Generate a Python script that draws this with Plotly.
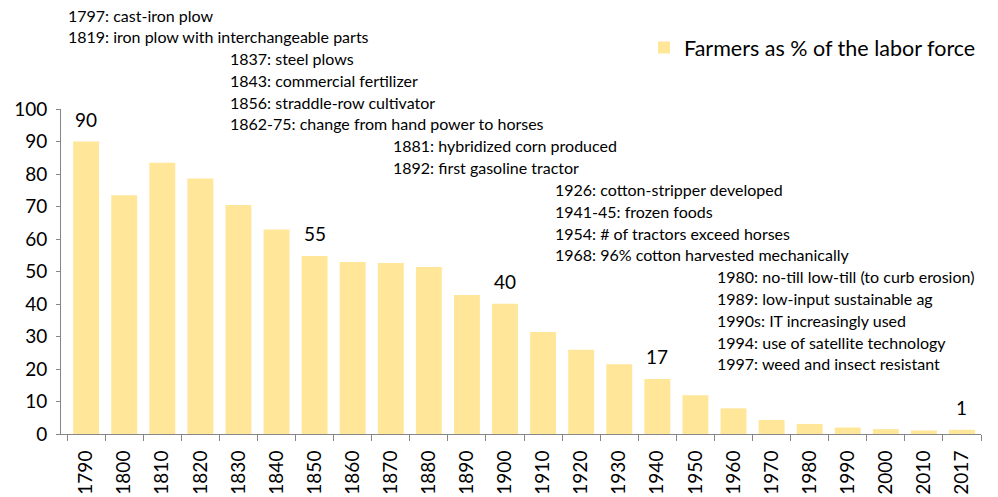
import plotly.graph_objects as go

YEARS = ["1790", "1800", "1810", "1820", "1830", "1840", "1850", "1860", "1870", "1880",
         "1890", "1900", "1910", "1920", "1930", "1940", "1950", "1960", "1970", "1980",
         "1990", "2000", "2010", "2017"]
FARMERS_PCT = [90, 73.5, 83.5, 78.6, 70.5, 62.9, 54.8, 52.9, 52.6, 51.4,
               42.8, 40.1, 31.4, 25.9, 21.5, 16.9, 11.9, 7.9, 4.3, 3.1,
               2.0, 1.5, 1.1, 1.3]
LABELED = {"1790": "90", "1850": "55", "1900": "40", "1940": "17", "2017": "1"}

EVENTS = [
    "1797: cast-iron plow",
    "1819: iron plow with interchangeable parts",
    "1837: steel plows",
    "1843: commercial fertilizer",
    "1856: straddle-row cultivator",
    "1862-75: change from hand power to horses",
    "1881: hybridized corn produced",
    "1892: first gasoline tractor",
    "1926: cotton-stripper developed",
    "1941-45: frozen foods",
    "1954: # of tractors exceed horses",
    "1968: 96% cotton harvested mechanically",
    "1980: no-till low-till (to curb erosion)",
    "1989: low-input sustainable ag",
    "1990s: IT increasingly used",
    "1994: use of satellite technology",
    "1997: weed and insect resistant",
]
# which text column each event sits in
EVENT_COL = [0, 0, 1, 1, 1, 1, 2, 2, 3, 3, 3, 3, 4, 4, 4, 4, 4]

BAR = "#FFE699"
FONT = "Lato, Carlito, 'Open Sans', sans-serif"

W, H = 998, 497
L, R, T, B = 61, 17, 109, 63


def px_x(px):
    return (px - L) / (W - L - R)


def px_y(py):
    return (H - B - py) / (H - T - B)


fig = go.Figure()
fig.add_trace(go.Bar(
    x=YEARS, y=FARMERS_PCT, name="Farmers as % of the labor force",
    marker=dict(color=BAR, line_width=0), width=0.68,
))

# data labels on selected bars
for yr, txt in LABELED.items():
    i = YEARS.index(yr)
    fig.add_annotation(x=i, y=FARMERS_PCT[i], text=txt, showarrow=False,
                       yanchor="bottom", yshift=9, font=dict(size=19, color="#000"))

col_x = [66, 228, 391, 553, 715]
for i, (txt, c) in enumerate(zip(EVENTS, EVENT_COL)):
    fig.add_annotation(x=px_x(col_x[c]), y=px_y(15 + i * 21.8), xref="paper", yref="paper",
                       text=txt, showarrow=False, xanchor="left", yanchor="middle",
                       font=dict(size=16, color="#000"))

fig.update_layout(
    width=W, height=H,
    margin=dict(l=L, r=R, t=T, b=B, autoexpand=False),
    plot_bgcolor="white", paper_bgcolor="white",
    font=dict(family=FONT, color="#000"),
    showlegend=True,
    legend=dict(x=px_x(644), y=px_y(27), xanchor="left", yanchor="top",
                font=dict(size=21.5), bgcolor="rgba(0,0,0,0)", itemwidth=30),
    bargap=0.32,
    xaxis=dict(type="category", range=[-0.66, 23.5], showline=True, linecolor="#868686",
               ticks="outside", tickson="boundaries", ticklen=6, tickcolor="#868686",
               tickangle=-90, tickfont=dict(size=19), ticklabelstandoff=8, showgrid=False),
    yaxis=dict(range=[0, 100], dtick=10, showline=True, linecolor="#868686", ticks="outside",
               ticklen=4, tickcolor="#868686", tickfont=dict(size=19), ticklabelstandoff=5,
               showgrid=False, zeroline=False),
)

fig.write_html("out.html", config={"displayModeBar": False},
               post_script="document.body.style.margin='0';")
